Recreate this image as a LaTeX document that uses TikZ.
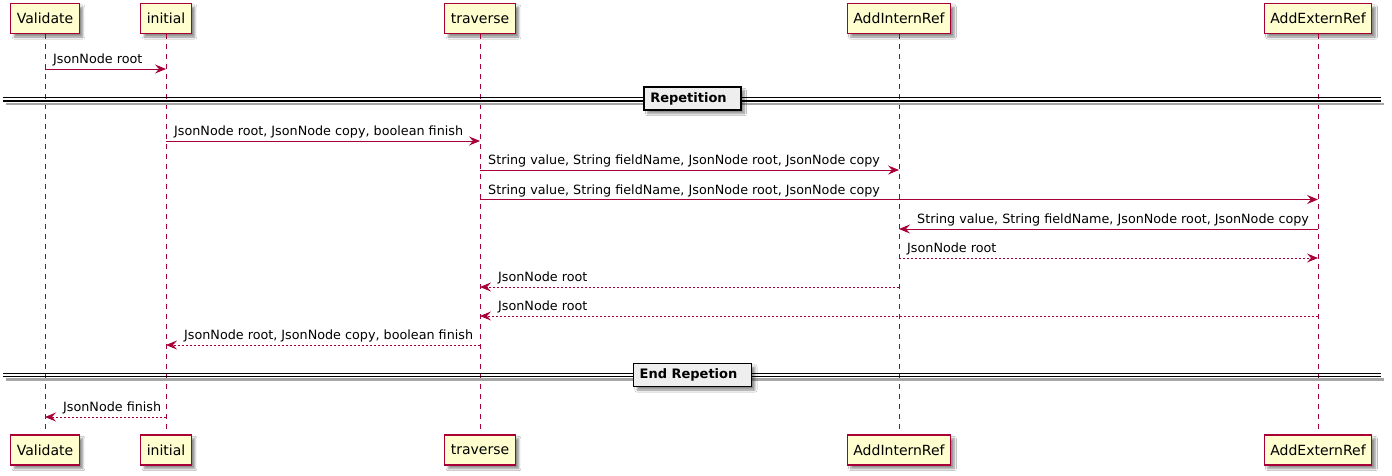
\documentclass[tikz,border=0pt]{standalone}
\usepackage{fontspec}
\setmainfont{DejaVu Sans}
\usetikzlibrary{arrows.meta,shadows.blur}
\definecolor{pborder}{HTML}{A80036}
\definecolor{pfill}{HTML}{FEFECE}
\definecolor{sepfill}{HTML}{EEEEEE}
\begin{document}
\begin{tikzpicture}[x=1pt,y=-1pt,
  part/.style={draw=pborder, fill=pfill, line width=1.2pt,
    font=\fontsize{14}{16}\selectfont, inner xsep=6pt, inner ysep=0pt,
    minimum height=30pt,
    blur shadow={shadow xshift=3.5pt, shadow yshift=-3.5pt, shadow blur steps=6, shadow opacity=45}},
  life/.style={draw=pborder, line width=0.9pt, dash pattern=on 5pt off 5pt},
  msg/.style={draw=pborder, line width=0.9pt, -{Stealth[length=11pt,width=9pt,inset=4pt]}},
  ret/.style={msg, dash pattern=on 2pt off 2pt},
  lbl/.style={font=\fontsize{12.75}{15}\selectfont, inner sep=0pt, anchor=base west},
  sepline/.style={draw=black, line width=1.2pt},
  sepshadow/.style={draw=black!35, line width=2.5pt},
  sepbox/.style={draw=black, fill=sepfill, line width=1.6pt,
    font=\bfseries\fontsize{13}{15}\selectfont, inner xsep=6pt, inner ysep=0pt,
    minimum height=23pt,
    blur shadow={shadow xshift=3.5pt, shadow yshift=-3.5pt, shadow blur steps=6, shadow opacity=45}}
]
\useasboundingbox[fill=white] (0,0) rectangle (1392,475);

% participants (top)
\node[part] (Vt) at (45,18.5) {Validate};
\node[part] (It) at (166,18.5) {initial};
\node[part] (Tt) at (480,18.5) {traverse};
\node[part] (At) at (899,18.5) {AddInternRef};
\node[part] (Et) at (1318,18.5) {AddExternRef};
% participants (bottom)
\node[part] (Vb) at (45,450) {Validate};
\node[part] (Ib) at (166,450) {initial};
\node[part] (Tb) at (480,450) {traverse};
\node[part] (Ab) at (899,450) {AddInternRef};
\node[part] (Eb) at (1318,450) {AddExternRef};

% lifelines
\draw[life] (Vt.south) -- (Vb.north);
\draw[life] (It.south) -- (Ib.north);
\draw[life] (Tt.south) -- (Tb.north);
\draw[life] (At.south) -- (Ab.north);
\draw[life] (Et.south) -- (Eb.north);

% y levels
\coordinate (y1) at (0,69);
\coordinate (y2) at (0,141);
\coordinate (y3) at (0,170);
\coordinate (y4) at (0,199.5);
\coordinate (y5) at (0,229);
\coordinate (y6) at (0,258);
\coordinate (y7) at (0,287);
\coordinate (y8) at (0,316);
\coordinate (y9) at (0,345);
\coordinate (y10) at (0,417);

% separators
\coordinate (s1l) at (3,99.3);
\coordinate (s1r) at (1381,99.3);
\draw[sepshadow] ([shift={(3,4.5)}]s1l) -- ([shift={(3,4.5)}]s1r);
\draw[sepline] ([yshift=1.7pt]s1l) -- ([yshift=1.7pt]s1r);
\draw[sepline] ([yshift=-1.7pt]s1l) -- ([yshift=-1.7pt]s1r);
\node[sepbox] (rep) at (692.5,98.5) {Repetition\kern8pt};

\coordinate (s2l) at (3,375);
\coordinate (s2r) at (1381,375);
\draw[sepshadow] ([shift={(3,4.5)}]s2l) -- ([shift={(3,4.5)}]s2r);
\draw[sepline] ([yshift=1.7pt]s2l) -- ([yshift=1.7pt]s2r);
\draw[sepline] ([yshift=-1.7pt]s2l) -- ([yshift=-1.7pt]s2r);
\node[sepbox] (endrep) at (692.5,375) {End Repetion\kern8pt};

% messages
\draw[msg] (Vt |- y1) -- (It |- y1);
\path (Vt |- y1) ++(8,-5.5) node[lbl] (m1) {JsonNode root};

\draw[msg] (It |- y2) -- (Tt |- y2);
\path (It |- y2) ++(8,-5.5) node[lbl] (m2) {JsonNode root, JsonNode copy, boolean finish};

\draw[msg] (Tt |- y3) -- (At |- y3);
\path (Tt |- y3) ++(8,-5.5) node[lbl] (m3) {String value, String fieldName, JsonNode root, JsonNode copy};

\draw[msg] (Tt |- y4) -- (Et |- y4);
\path (Tt |- y4) ++(8,-5.5) node[lbl] (m4) {String value, String fieldName, JsonNode root, JsonNode copy};

\draw[msg] (Et |- y5) -- (At |- y5);
\path (At |- y5) ++(18,-5.5) node[lbl] (m5) {String value, String fieldName, JsonNode root, JsonNode copy};

\draw[ret] (At |- y6) -- (Et |- y6);
\path (At |- y6) ++(8,-5.5) node[lbl] (m6) {JsonNode root};

\draw[ret] (At |- y7) -- (Tt |- y7);
\path (Tt |- y7) ++(18,-5.5) node[lbl] (m7) {JsonNode root};

\draw[ret] (Et |- y8) -- (Tt |- y8);
\path (Tt |- y8) ++(18,-5.5) node[lbl] (m8) {JsonNode root};

\draw[ret] (Tt |- y9) -- (It |- y9);
\path (It |- y9) ++(18,-5.5) node[lbl] (m9) {JsonNode root, JsonNode copy, boolean finish};

\draw[ret] (It |- y10) -- (Vt |- y10);
\path (Vt |- y10) ++(18,-5.5) node[lbl] (m10) {JsonNode finish};
\end{tikzpicture}
\end{document}
